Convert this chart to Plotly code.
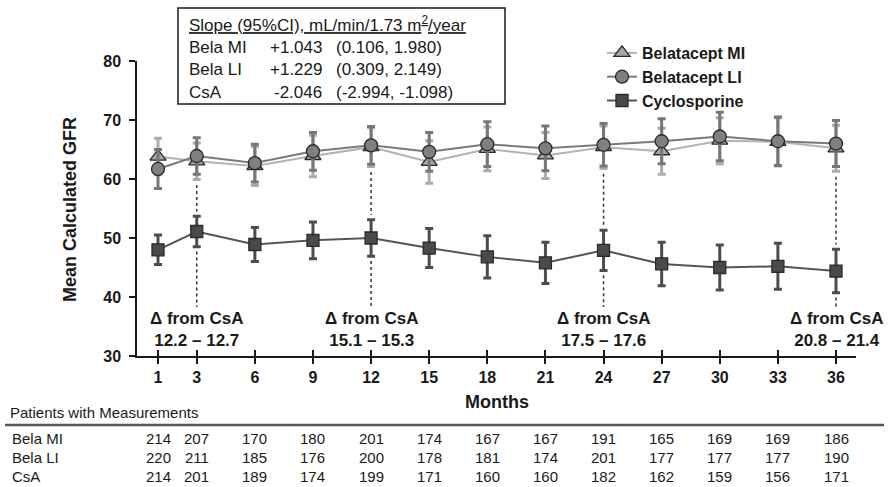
import plotly.graph_objects as go

# ---------------- data ----------------
months = [1, 3, 6, 9, 12, 15, 18, 21, 24, 27, 30, 33, 36]
bela_mi = [63.8, 63.0, 62.2, 63.9, 65.4, 62.9, 65.1, 64.0, 65.4, 64.7, 66.5, 66.3, 65.2]
bela_li = [61.7, 63.9, 62.7, 64.7, 65.7, 64.6, 65.9, 65.2, 65.8, 66.4, 67.2, 66.4, 66.0]
csa = [48.0, 51.1, 48.9, 49.6, 50.0, 48.3, 46.8, 45.8, 47.9, 45.6, 45.0, 45.2, 44.4]
err_mi = [3.1, 3.1, 3.3, 3.5, 3.3, 3.6, 3.7, 3.9, 3.6, 3.9, 3.9, 4.1, 3.9]
err_li = [3.3, 3.1, 3.2, 3.2, 3.2, 3.3, 3.8, 3.8, 3.6, 3.8, 4.1, 4.1, 3.9]
err_csa = [2.5, 2.6, 2.9, 3.1, 3.1, 3.3, 3.6, 3.5, 3.4, 3.7, 3.8, 3.9, 3.7]

series_names = ["Belatacept MI", "Belatacept LI", "Cyclosporine"]

patients_rows = ["Bela MI", "Bela LI", "CsA"]
patients_mi = [214, 207, 170, 180, 201, 174, 167, 167, 191, 165, 169, 169, 186]
patients_li = [220, 211, 185, 176, 200, 178, 181, 174, 201, 177, 177, 177, 190]
patients_csa = [214, 201, 189, 174, 199, 171, 160, 160, 182, 162, 159, 156, 171]

slope_groups = ["Bela MI", "Bela LI", "CsA"]
slope_values = ["+1.043", "+1.229", "-2.046"]
slope_ci = ["(0.106, 1.980)", "(0.309, 2.149)", "(-2.994, -1.098)"]

delta_months = [3, 12, 24, 36]
delta_ranges = ["12.2 – 12.7", "15.1 – 15.3", "17.5 – 17.6", "20.8 – 21.4"]

# ---------------- layout geometry ----------------
W, H = 889, 487
ML, MR, MT, MB = 137, 33, 61, 131
PW, PH = W - ML - MR, H - MT - MB


def px(xp):
    return (xp - ML) / PW


def py(yp):
    return (H - MB - yp) / PH


FONT = "Liberation Sans, Arial, Helvetica, sans-serif"
DARK = "#1a1a1a"

fig = go.Figure()

# dotted guide lines (behind traces)
for m in delta_months:
    i = months.index(m)
    top = min(bela_mi[i] - err_mi[i], bela_li[i] - err_li[i]) - 0.9
    c_top = csa[i] + err_csa[i] + 0.8
    c_bot = csa[i] - err_csa[i] - 0.8
    for y0, y1 in [(top, c_top), (c_bot, 38.3)]:
        fig.add_shape(type="line", xref="x", yref="y", x0=m, x1=m, y0=y0, y1=y1,
                      line=dict(color="#333333", width=1.5, dash="dot"), layer="below")

styles = [
    dict(y=bela_mi, e=err_mi, line="#b3b3b3", err="#acacac", fill="#a6a6a6",
         symbol="triangle-up", size=14),
    dict(y=bela_li, e=err_li, line="#7a7a7a", err="#777777", fill="#808080",
         symbol="circle", size=13),
    dict(y=csa, e=err_csa, line="#555555", err="#4d4d4d", fill="#4a4a4a",
         symbol="square", size=12),
]
for name, s in zip(series_names, styles):
    fig.add_trace(go.Scatter(
        x=months, y=s["y"], name=name, mode="lines+markers",
        line=dict(color=s["line"], width=2),
        marker=dict(symbol=s["symbol"], size=s["size"], color=s["fill"],
                    line=dict(color="#2a2a2a", width=1.3)),
        error_y=dict(type="data", array=s["e"], visible=True,
                     color=s["err"], thickness=3, width=4),
    ))

# dummy trace for crossing (inside) ticks on x axis
fig.add_trace(go.Scatter(x=[months[0]], y=[None], xaxis="x2", showlegend=False,
                         hoverinfo="skip"))

x_per = (836 - 158) / 35.0
x_left = 1 - (158 - ML) / x_per
x_right = 36 + (W - MR - 836) / x_per

fig.update_layout(
    width=W, height=H,
    margin=dict(l=ML, r=MR, t=MT, b=MB),
    paper_bgcolor="white", plot_bgcolor="white",
    font=dict(family=FONT, color=DARK),
    xaxis=dict(range=[x_left, x_right], tickmode="array", tickvals=months,
               ticktext=[str(m) for m in months], ticks="outside", ticklen=6,
               tickwidth=1.5, tickcolor=DARK, showline=True, linecolor=DARK,
               linewidth=1.5, showgrid=False, zeroline=False,
               tickfont=dict(size=16, weight="bold", family=FONT, color=DARK),
               ticklabelstandoff=0),
    xaxis2=dict(range=[x_left, x_right], overlaying="x", tickmode="array",
                tickvals=months, ticks="inside", ticklen=6, tickwidth=1.5,
                tickcolor=DARK, showticklabels=False, showgrid=False,
                zeroline=False, showline=False, side="bottom", anchor="y"),
    yaxis=dict(range=[30, 80], tickvals=[30, 40, 50, 60, 70, 80], ticks="outside",
               ticklen=6, tickwidth=1.5, tickcolor=DARK, showline=True,
               linecolor=DARK, linewidth=1.5, showgrid=False, zeroline=False,
               tickfont=dict(size=16, weight="bold", family=FONT, color=DARK),
               ticklabelstandoff=5),
    legend=dict(x=px(602), y=py(36), xanchor="left", yanchor="top",
                bgcolor="rgba(0,0,0,0)", tracegroupgap=0,
                font=dict(size=16, weight="bold", family=FONT, color=DARK)),
    showlegend=True,
)

ann = []
# axis titles
ann.append(dict(text="<b>Mean Calculated GFR</b>", xref="paper", yref="paper",
                x=px(70), y=py(210), textangle=-90, showarrow=False,
                font=dict(size=18), xanchor="center", yanchor="middle"))
ann.append(dict(text="<b>Months</b>", xref="paper", yref="paper", x=px(497),
                y=py(402), showarrow=False, font=dict(size=18),
                xanchor="center", yanchor="middle"))

# delta labels
for m, r in zip(delta_months, delta_ranges):
    ann.append(dict(text="<b>Δ from CsA<br>" + r + "</b>", xref="x", yref="paper",
                    x=m, y=py(329), showarrow=False, font=dict(size=17),
                    xanchor="center", yanchor="middle", align="center"))

# slope table
fig.add_shape(type="rect", xref="paper", yref="paper", x0=px(178), x1=px(505),
              y0=py(8), y1=py(104), line=dict(color=DARK, width=1.5),
              fillcolor="white")
ann.append(dict(text="<u>Slope (95%CI), mL/min/1.73 m<sup>2</sup>/year</u>",
                xref="paper", yref="paper", x=px(187), y=py(24), showarrow=False,
                font=dict(size=17), xanchor="left", yanchor="middle"))
row_y = [47, 70, 92]
for g, v, c, yy in zip(slope_groups, slope_values, slope_ci, row_y):
    ann.append(dict(text=g, xref="paper", yref="paper", x=px(187), y=py(yy),
                    showarrow=False, font=dict(size=17), xanchor="left",
                    yanchor="middle"))
    ann.append(dict(text=v, xref="paper", yref="paper", x=px(324), y=py(yy),
                    showarrow=False, font=dict(size=17), xanchor="right",
                    yanchor="middle"))
    ann.append(dict(text=c, xref="paper", yref="paper", x=px(334), y=py(yy),
                    showarrow=False, font=dict(size=17), xanchor="left",
                    yanchor="middle"))

# patients table
ann.append(dict(text="Patients with Measurements", xref="paper", yref="paper",
                x=px(8), y=py(412), showarrow=False, font=dict(size=15),
                xanchor="left", yanchor="middle"))
fig.add_shape(type="line", xref="paper", yref="paper", x0=px(5), x1=px(884),
              y0=py(425), y1=py(425), line=dict(color="#555555", width=2.5))
tab_y = [438, 457, 476]
for label, vals, yy in zip(patients_rows, [patients_mi, patients_li, patients_csa], tab_y):
    ann.append(dict(text=label, xref="paper", yref="paper", x=px(10), y=py(yy),
                    showarrow=False, font=dict(size=15), xanchor="left",
                    yanchor="middle"))
    for m, v in zip(months, vals):
        ann.append(dict(text=str(v), xref="x", yref="paper", x=m, y=py(yy),
                        showarrow=False, font=dict(size=15), xanchor="center",
                        yanchor="middle"))

fig.update_layout(annotations=ann)
fig.write_html("out.html",
               config={"displayModeBar": False},
               post_script="document.body.style.margin='0';"
                           "document.body.style.overflow='hidden';")
